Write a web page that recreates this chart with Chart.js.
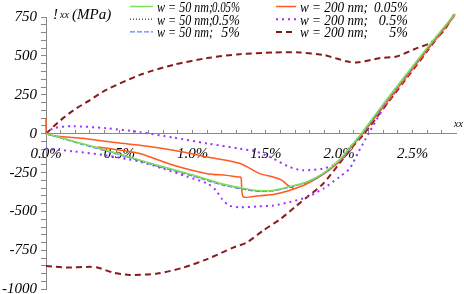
<!DOCTYPE html>
<html>
<head>
<meta charset="utf-8">
<script src="https://cdn.jsdelivr.net/npm/chart.js@4.4.1/dist/chart.umd.min.js"></script>
<style>
  html, body { margin: 0; padding: 0; background: #fff; }
</style>
</head>
<body>
<canvas id="chart" width="464" height="294"></canvas>
<script>
// axis ticks
const xTickValues = [0, 0.5, 1.0, 1.5, 2.0, 2.5]
const xTickLabels = ["0.0%", "0.5%", "1.0%", "1.5%", "2.0%", "2.5%"]
const yTickValues = [-1000, -750, -500, -250, 0, 250, 500, 750]
const yTickLabels = ["-1000", "-750", "-500", "-250", "0", "250", "500", "750"]

// legend text
const legendNames = ["w = 50 nm;", "w = 50 nm;", "w = 50 nm;", "w = 200 nm;", "w = 200 nm;", "w = 200 nm;"]
const legendPcts = ["0.05%", "0.5%", "5%", "0.05%", "0.5%", "5%"]

// w = 50 nm curves (all three share the strain samples), strain in %, stress in MPa
const strain50 = [0, 0.1, 0.25, 0.5, 0.75, 1.0, 1.2, 1.35, 1.45, 1.55, 1.65, 1.78, 1.89, 2.0, 2.07, 2.15, 2.3, 2.45, 2.6, 2.7, 2.79]
const stress50_005 = [0, -25, -65, -130, -200, -265, -322, -352, -366, -364, -343, -309, -255, -170, -90, 0, 190, 372, 553, 668, 770]
const stress50_05 = [0, -26, -66, -131, -202, -268, -325, -355, -368, -366, -345, -311, -257, -172, -92, -3, 187, 369, 550, 666, 768]
const stress50_5 = [0, -28, -70, -136, -207, -272, -330, -358, -371, -368, -347, -314, -261, -177, -97, -8, 182, 365, 547, 663, 766]

// w = 200 nm, 0.05% : two branches, null = gap
const strain200_005 = [0, 0, 0.25, 0.5, 0.64, 0.87, 1.1, 1.32, 1.46, 1.55, 1.61, 1.65, 1.69, 1.69,
  0.35, 0.5, 0.64, 0.87, 1.1, 1.23, 1.31, 1.33, 1.345, 1.44, 1.55, 1.66, 1.78, 1.89, 2.0, 2.07, 2.16, 2.3, 2.45, 2.6, 2.7, 2.79]
const stress200_005 = [100, 0, -30, -60, -74, -107, -150, -190, -257, -279, -300, -333, -352, null,
  -85, -105, -128, -203, -257, -268, -279, -280, -405, -400, -391, -365, -322, -262, -180, -100, 0, 172, 355, 538, 655, 762]

// w = 200 nm, 0.5%
const strain200_05 = [0, 0.05, 0.18, 0.41, 0.64, 0.87, 1.1, 1.32, 1.44, 1.55, 1.66, 1.75, 1.89, 1.98, 2.03, 2.07, 2.07,
  0, 0.18, 0.41, 0.64, 0.8, 0.96, 1.1, 1.16, 1.2, 1.25, 1.32, 1.44, 1.55, 1.66, 1.78, 1.89, 2.0, 2.07, 2.13, 2.2, 2.3, 2.45, 2.6, 2.79]
const stress200_05 = [0, 35, 48, 35, 10, -25, -63, -96, -117, -160, -214, -235, -225, -193, -150, -100, null,
  -96, -113, -140, -180, -225, -275, -320, -365, -420, -462, -473, -468, -462, -440, -408, -354, -279, -225, -120, 0, 160, 355, 540, 765]

// w = 200 nm, 5%
const strain200_5 = [0, 0.14, 0.3, 0.35, 0.46, 0.57, 0.76, 0.94, 1.1, 1.28, 1.37, 1.48, 1.6, 1.71, 1.78, 1.89, 2.0, 2.07, 2.17, 2.3, 2.45, 2.6, 2.79, 2.79,
  0, 0.1, 0.19, 0.3, 0.41, 0.64, 0.87, 1.1, 1.32, 1.55, 1.73, 1.89, 1.94, 2.05, 2.12, 2.28, 2.39, 2.53, 2.62, 2.71, 2.79]
const stress200_5 = [-850, -860, -856, -860, -893, -908, -899, -860, -806, -731, -699, -623, -548, -462, -408, -322, -193, -107, 0, 160, 345, 530, 770, null,
  0, 87, 152, 216, 281, 378, 443, 486, 511, 522, 522, 507, 495, 465, 457, 486, 496, 550, 583, 658, 776]

const toPoints = (xs, ys) => xs.map((x, i) => ({ x: x, y: ys[i] }))

const serif = '"Liberation Serif", "Times New Roman", serif'

function line(label, xs, ys, color, width, dash) {
  return {
    label: label,
    data: toPoints(xs, ys),
    borderColor: color,
    borderWidth: width,
    borderDash: dash,
    pointRadius: 0,
    tension: 0.25,
    fill: false,
    clip: false,
    spanGaps: false
  }
}

const xMinor = []
for (let i = 0; i <= 27; i++) xMinor.push(i / 10)
const yMinor = []
for (let v = -1000; v <= 750; v += 50) yMinor.push(v)

const legendPlugin = {
  id: "legendText",
  afterDraw(chart) {
    const ctx = chart.ctx
    ctx.save()
    chart.data.datasets.forEach((ds, i) => {
      const col = Math.floor(i / 3)
      const row = i % 3
      const x0 = col ? 276 : 130
      const x1 = col ? 296 : 153
      const y = 6.5 + row * 12.7
      ctx.strokeStyle = ds.borderColor
      ctx.lineWidth = ds.borderWidth
      ctx.setLineDash(ds.borderDash || [])
      ctx.beginPath()
      ctx.moveTo(x0, y)
      ctx.lineTo(x1, y)
      ctx.stroke()
      ctx.setLineDash([])
      ctx.fillStyle = "#000"
      ctx.font = "italic 14px " + serif
      ctx.textBaseline = "alphabetic"
      ctx.textAlign = "left"
      ctx.fillText(legendNames[i], col ? 300 : 157, y + 5.5, col ? 68 : 56)
      ctx.textAlign = "right"
      ctx.fillText(legendPcts[i], col ? 408 : 240, y + 5.5, col ? 34 : 28)
    })

    // axis titles (sigma / epsilon glyphs show as "!" and nothing in the source)
    ctx.textAlign = "left"
    ctx.font = "italic 15px " + serif
    ctx.fillText("!", 53, 19)
    ctx.fillText("(MPa)", 72, 19)
    ctx.font = "italic 10px " + serif
    ctx.fillText("xx", 60, 18)
    ctx.fillText("xx", 454, 127)
    ctx.restore()
  }
}

new Chart(document.getElementById("chart"), {
  type: "line",
  data: {
    datasets: [
      line("w = 50 nm; 0.05%", strain50, stress50_005, "#7ee05a", 1.5, []),
      line("w = 50 nm; 0.5%", strain50, stress50_05, "#555555", 1.5, [1, 2]),
      line("w = 50 nm; 5%", strain50, stress50_5, "#6680f5", 1.2, [5, 2]),
      line("w = 200 nm; 0.05%", strain200_005, stress200_005, "#ff5a1f", 1.5, []),
      line("w = 200 nm; 0.5%", strain200_05, stress200_05, "#9933ff", 2, [2, 4]),
      line("w = 200 nm; 5%", strain200_5, stress200_5, "#8b1a1a", 2, [6, 4])
    ]
  },
  options: {
    responsive: false,
    animation: false,
    layout: { padding: { top: 17, right: 7.5, bottom: 4, left: 0 } },
    plugins: {
      legend: { display: false },
      tooltip: { enabled: false }
    },
    scales: {
      x: {
        type: "linear",
        min: 0,
        max: 2.8,
        position: { y: 0 },
        afterBuildTicks: (s) => { s.ticks = xMinor.map(v => ({ value: v })) },
        ticks: {
          autoSkip: false,
          maxRotation: 0,
          padding: 15,
          color: "#000",
          font: { family: serif, style: "italic", size: 15 },
          callback: (v) => {
            const i = xTickValues.findIndex(t => Math.abs(t - v) < 1e-6)
            return i >= 0 ? xTickLabels[i] : ""
          }
        },
        grid: { drawOnChartArea: false, drawTicks: true, tickLength: -4, color: "#888" },
        border: { color: "#888" }
      },
      y: {
        min: -1000,
        max: 750,
        afterBuildTicks: (s) => { s.ticks = yMinor.map(v => ({ value: v })) },
        afterFit: (s) => { s.width = 46 },
        ticks: {
          autoSkip: false,
          padding: 4,
          color: "#000",
          font: { family: serif, style: "italic", size: 15, lineHeight: 0.1 },
          callback: (v) => {
            const i = yTickValues.indexOf(v)
            return i >= 0 ? yTickLabels[i] : ""
          }
        },
        grid: { drawOnChartArea: false, drawTicks: true, tickLength: 5, color: "#888" },
        border: { color: "#888" }
      }
    }
  },
  plugins: [legendPlugin]
})
</script>
</body>
</html>
